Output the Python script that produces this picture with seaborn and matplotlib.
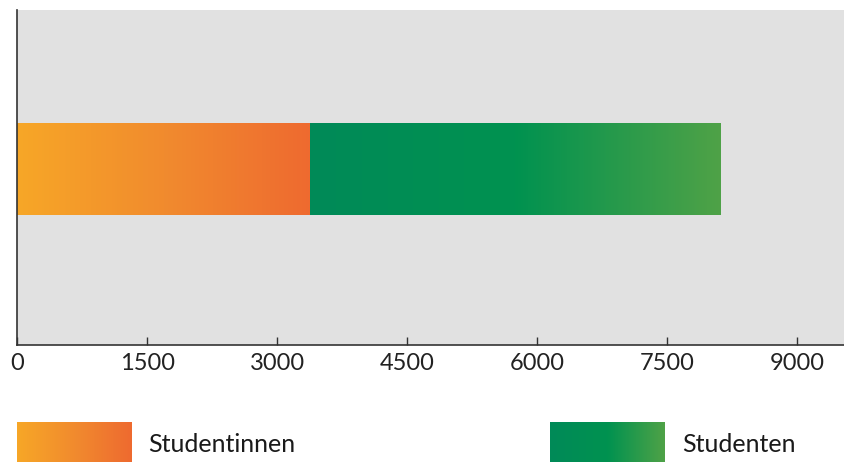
import numpy as np
import pandas as pd
import matplotlib
matplotlib.use("Agg")
import matplotlib.pyplot as plt
from matplotlib.colors import LinearSegmentedColormap
import seaborn as sns

# Data
groups = ["Studentinnen", "Studenten"]
counts = [3380, 4730]
category = ["Gesamt"]
xticks = [0, 1500, 3000, 4500, 6000, 7500, 9000]

grad_colors = {
    "Studentinnen": [(0.0, "#F7A727"), (0.5, "#F18B2E"), (1.0, "#EE6A30")],
    "Studenten": [(0.0, "#008A58"), (0.5, "#009250"), (1.0, "#4FA247")],
}

sns.set_theme(style="white")
plt.rcParams["font.family"] = ["Lato", "DejaVu Sans"]

fig = plt.figure(figsize=(8.45, 4.62), dpi=100)
ax = fig.add_axes([17 / 845, 117 / 462, 828 / 845, 335 / 462])
ax.set_facecolor("#E1E1E1")

total = sum(counts)
df_total = pd.DataFrame({"cat": category, "val": [total]})
df_first = pd.DataFrame({"cat": category, "val": [counts[0]]})

# stacked bar: total underneath, first group on top
sns.barplot(data=df_total, x="val", y="cat", orient="h", color=grad_colors["Studenten"][0][1],
            width=0.34, ax=ax, edgecolor="none")
sns.barplot(data=df_first, x="val", y="cat", orient="h", color=grad_colors["Studentinnen"][0][1],
            width=0.34, ax=ax, edgecolor="none")

# gradient fill on each segment
patches = ax.patches
grad = np.linspace(0, 1, 256).reshape(1, -1)
segments = [(0, counts[0], "Studentinnen", patches[1]), (counts[0], total, "Studenten", patches[0])]
for x0, x1, name, p in segments:
    y0 = p.get_y()
    h = p.get_height()
    cmap = LinearSegmentedColormap.from_list(name, grad_colors[name])
    im = ax.imshow(grad, cmap=cmap, aspect="auto", extent=[x0, x1, y0 + h, y0],
                   zorder=p.get_zorder() + 1, interpolation="bicubic")
    im.set_clip_path(p)
ax.set_xlim(0, 9550)
ax.set_ylim(0.65, -0.59)

ax.set_xlabel("")
ax.set_ylabel("")
ax.set_yticks([])
ax.set_xticks(xticks)
ax.set_xticklabels([str(t) for t in xticks], fontsize=17, color="#222222")
ax.tick_params(axis="x", direction="in", length=6, width=1, color="#333333", pad=6, bottom=True)
for s in ["top", "right"]:
    ax.spines[s].set_visible(False)
for s in ["left", "bottom"]:
    ax.spines[s].set_color("#333333")
    ax.spines[s].set_linewidth(1.2)

# legend with gradient swatches
legend_items = [(17, 148, "Studentinnen"), (550, 682, "Studenten")]
for px, tx, name in legend_items:
    sax = fig.add_axes([px / 845, 0, 115 / 845, 40 / 462])
    cmap = LinearSegmentedColormap.from_list(name + "_leg", grad_colors[name])
    sax.imshow(grad, cmap=cmap, aspect="auto", interpolation="bicubic")
    sax.set_axis_off()
    fig.text(tx / 845, 17 / 462, name, fontsize=18, color="#1a1a1a", va="center", ha="left")

fig.savefig("out.png", dpi=100, facecolor="white")
